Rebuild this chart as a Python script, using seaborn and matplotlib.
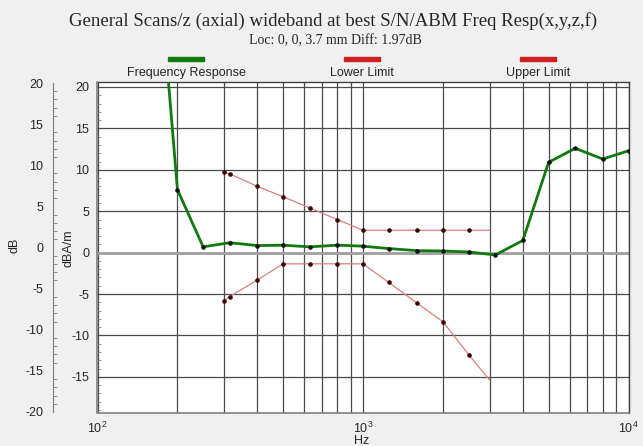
import matplotlib
matplotlib.use("Agg")
import matplotlib.pyplot as plt
import matplotlib.ticker as mticker
import seaborn as sns
import pandas as pd
import numpy as np

# ---- data ----
resp_freq = [160, 200, 250, 315, 400, 500, 630, 800, 1000, 1250, 1600, 2000, 2500, 3150, 4000, 5000, 6300, 8000, 10000]
resp_db = [45.0, 7.6, 0.7, 1.2, 0.85, 0.9, 0.7, 0.9, 0.78, 0.49, 0.24, 0.2, 0.08, -0.28, 1.47, 10.9, 12.6, 11.3, 12.3]

limit_freq = [300, 315, 400, 500, 630, 800, 1000, 1250, 1600, 2000, 2500, 3000]
upper_db = [9.7, 9.5, 8.0, 6.75, 5.4, 4.0, 2.7, 2.7, 2.7, 2.7, 2.7, 2.7]
lower_db = [-5.8, -5.3, -3.3, -1.35, -1.35, -1.35, -1.35, -3.6, -6.1, -8.35, -12.3, -15.4]

legend_labels = ["Frequency Response", "Lower Limit", "Upper Limit"]
title_text = "General Scans/z (axial) wideband at best S/N/ABM Freq Resp(x,y,z,f)"
subtitle_text = "Loc: 0, 0, 3.7 mm Diff: 1.97dB"

resp_df = pd.DataFrame({"Hz": resp_freq, "dB": resp_db})
lim_df = pd.DataFrame({"Hz": limit_freq, "upper": upper_db, "lower": lower_db})

sns.set_style("white")
plt.rcParams["font.family"] = ["Liberation Sans", "DejaVu Sans"]
plt.rcParams["axes.unicode_minus"] = False

W, H = 643, 446
fig = plt.figure(figsize=(W / 100, H / 100), dpi=100, facecolor="#f0f0f0")

def fx(px):
    return px / W

def fy(py):
    return 1 - py / H

left, right, top, bottom = 97.5, 628.5, 82, 412.5
ax = fig.add_axes([fx(left), fy(bottom), fx(right - left), (bottom - top) / H])
ax.set_facecolor("white")

green = "#107a10"
limcol = "#d88080"
mk = "#3a0000"

sns.lineplot(data=lim_df, x="Hz", y="upper", ax=ax, color=limcol, lw=0.9,
             marker="o", markersize=2.5, markerfacecolor=mk, markeredgecolor=mk,
             markevery=slice(0, len(limit_freq) - 1), zorder=3)
sns.lineplot(data=lim_df, x="Hz", y="lower", ax=ax, color=limcol, lw=0.9,
             marker="o", markersize=2.5, markerfacecolor=mk, markeredgecolor=mk,
             markevery=slice(0, len(limit_freq) - 1), zorder=3)
sns.lineplot(data=resp_df, x="Hz", y="dB", ax=ax, color=green, lw=2.0,
             marker="o", markersize=2.5, markerfacecolor="#101010", markeredgecolor="#101010",
             zorder=4)

ax.set_xscale("log")
ax.set_xlim(100, 10000)
ax.set_ylim(-19.3, 20.6)

ax.xaxis.set_major_locator(mticker.LogLocator(base=10, numticks=10))
ax.xaxis.set_minor_locator(mticker.LogLocator(base=10, subs=np.arange(2, 10), numticks=20))
ax.xaxis.set_minor_formatter(mticker.NullFormatter())
ax.yaxis.set_major_locator(mticker.MultipleLocator(5))
ax.yaxis.set_minor_locator(mticker.MultipleLocator(1))

ax.grid(True, which="major", axis="both", color="#4a4a4a", lw=0.9)
ax.grid(True, which="minor", axis="x", color="#4a4a4a", lw=0.9)
ax.tick_params(axis="x", which="major", direction="out", length=4, color="#808080",
               labelsize=9, pad=2)
ax.tick_params(axis="x", which="minor", length=0)
ax.tick_params(axis="y", which="major", direction="out", length=4, color="#808080",
               labelsize=9, pad=2)
ax.tick_params(axis="y", which="minor", direction="in", length=3, color="#808080", left=True)
for s in ["left", "bottom"]:
    ax.spines[s].set_color("#808080")
    ax.spines[s].set_linewidth(1.2)
for s in ["top", "right"]:
    ax.spines[s].set_color("#404040")
    ax.spines[s].set_linewidth(1.0)
ax.set_xlabel("")
ax.set_ylabel("")

# zero line emphasis
ax.axhline(0, color="#a0a0a0", lw=2.0, zorder=1.5)

# outer dB axis
ax2 = fig.add_axes([fx(53), fy(412), 0.0001, (412 - 83) / H])
ax2.patch.set_alpha(0)
ax2.set_ylim(-20, 20)
ax2.set_xticks([])
ax2.yaxis.set_major_locator(mticker.MultipleLocator(5))
ax2.yaxis.set_minor_locator(mticker.MultipleLocator(1))
for s in ["top", "right", "bottom"]:
    ax2.spines[s].set_visible(False)
ax2.spines["left"].set_color("#808080")
ax2.tick_params(axis="y", which="major", direction="out", length=5, color="#808080",
                labelsize=9, pad=2)
ax2.tick_params(axis="y", which="minor", direction="in", length=3, color="#808080", left=True)

# labels
fig.text(fx(15), fy(245), "dB", rotation=90, ha="center", va="center", fontsize=9)
fig.text(fx(69), fy(248), "dBA/m", rotation=90, ha="center", va="center", fontsize=9)
fig.text(fx(362), fy(441), "Hz", ha="center", va="center", fontsize=9)

fig.text(fx(333), fy(21), title_text, ha="center", va="center", fontsize=13.5,
         family=["Liberation Serif", "DejaVu Serif"])
fig.text(fx(335), fy(41), subtitle_text, ha="center", va="center", fontsize=10,
         family=["Liberation Serif", "DejaVu Serif"])

# legend
leg_x = [186, 362, 538]
leg_cols = [green, "#cc1f1f", "#cc1f1f"]
for xc, lab, c in zip(leg_x, legend_labels, leg_cols):
    fig.patches.append(matplotlib.patches.Rectangle((fx(xc - 18), fy(61)), fx(36), 4 / H,
                                                    transform=fig.transFigure, color=c))
    fig.text(fx(xc), fy(73), lab, ha="center", va="center", fontsize=9)

fig.savefig("out.png", dpi=100, facecolor=fig.get_facecolor())
